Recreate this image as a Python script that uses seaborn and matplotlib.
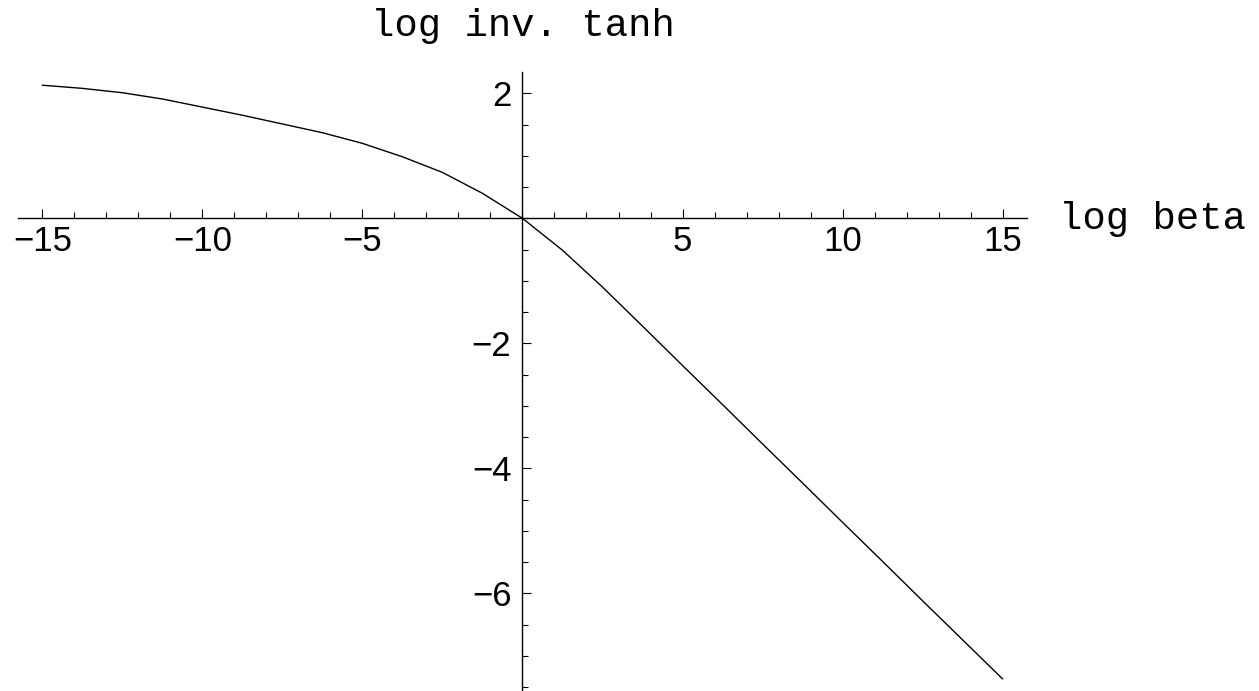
import numpy as np
import pandas as pd
import matplotlib
matplotlib.use('Agg')
import matplotlib.pyplot as plt
import seaborn as sns
from matplotlib.ticker import MultipleLocator, FixedLocator

log_beta = [-15, -13.75, -12.5, -11.25, -10, -8.75, -7.5, -6.25, -5, -3.75, -2.5, -1.25, 0,
            1.25, 2.5, 3.75, 5, 6.25, 7.5, 8.75, 10, 11.25, 12.5, 13.75, 15]
log_inv_tanh = [2.13, 2.08, 2.01, 1.91, 1.78, 1.65, 1.51, 1.37, 1.20, 0.985, 0.735, 0.40, 0.0,
                -0.51, -1.10, -1.725, -2.355, -2.98, -3.61, -4.235, -4.865, -5.49, -6.12, -6.745, -7.37]

x_ticks = [-15, -10, -5, 5, 10, 15]
y_ticks = [-6, -4, -2, 2]

df = pd.DataFrame({'log beta': log_beta, 'log inv. tanh': log_inv_tanh})

sns.set_style('white')
plt.rcParams['font.family'] = ['Liberation Sans', 'DejaVu Sans']
plt.rcParams['text.color'] = 'black'

fig = plt.figure(figsize=(12.59, 6.91), dpi=100)
ax = fig.add_axes([0.01454, 0.0, 0.8009, 0.8962])

sns.lineplot(data=df, x='log beta', y='log inv. tanh', color='black', lw=1.0, ax=ax)

ax.set_xlim(-15.75, 15.75)
ax.set_ylim(-7.563, 2.346)
ax.set_xlabel('')
ax.set_ylabel('')

# axes through the origin, Mathematica style
ax.spines['left'].set_position(('data', 0))
ax.spines['bottom'].set_position(('data', 0))
ax.spines['top'].set_visible(False)
ax.spines['right'].set_visible(False)
for s in ['left', 'bottom']:
    ax.spines[s].set_linewidth(1.0)
    ax.spines[s].set_color('black')

def lab(t):
    return str(t).replace('-', '\u2212')

ax.xaxis.set_major_locator(FixedLocator(x_ticks))
ax.yaxis.set_major_locator(FixedLocator(y_ticks))
ax.xaxis.set_minor_locator(MultipleLocator(1))
ax.yaxis.set_minor_locator(MultipleLocator(0.5))
ax.set_xticklabels([lab(t) for t in x_ticks])
ax.set_yticklabels([lab(t) for t in y_ticks])

ax.tick_params(which='major', direction='in', length=6.5, width=0.8, color='black', labelcolor='black')
ax.tick_params(which='minor', direction='in', length=4, width=0.8, color='black')
ax.tick_params(axis='x', which='major', labelsize=25, pad=5)
ax.tick_params(axis='y', which='major', labelsize=25, pad=8)
ax.tick_params(bottom=True, left=True, which='both')

mono = ['Liberation Mono', 'DejaVu Sans Mono']
ax.text(16.77, -0.171, 'log beta', family=mono, fontsize=28, color='black',
        ha='left', va='baseline', clip_on=False)
ax.text(0, 2.917, 'log inv. tanh', family=mono, fontsize=28, color='black',
        ha='center', va='baseline', clip_on=False)

fig.savefig('out.png', dpi=100, facecolor='white')
